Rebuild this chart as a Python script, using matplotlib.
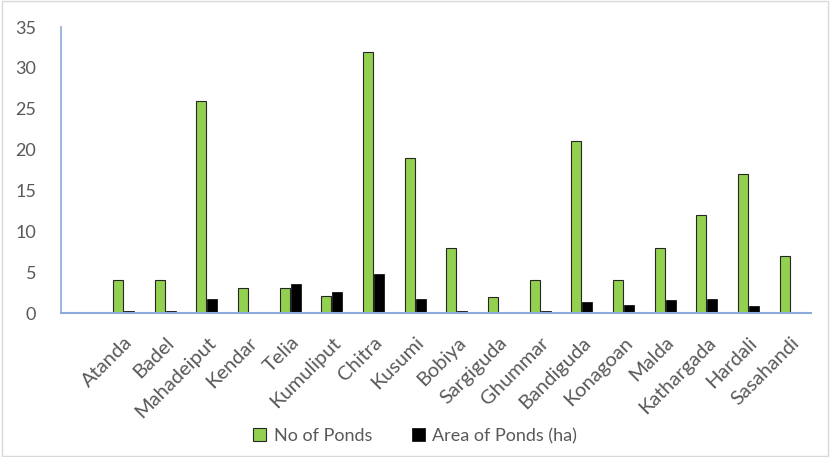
import numpy as np
import matplotlib.pyplot as plt
from matplotlib.patches import Rectangle

plt.rcParams['font.family'] = ['Lato', 'DejaVu Sans']

# data
villages = ['Atanda', 'Badel', 'Mahadeiput', 'Kendar', 'Telia', 'Kumuliput', 'Chitra', 'Kusumi',
            'Bobiya', 'Sargiguda', 'Ghummar', 'Bandiguda', 'Konagoan', 'Malda', 'Kathargada',
            'Hardali', 'Sasahandi']
no_ponds = [4, 4, 26, 3, 3, 2.1, 32, 19, 8, 2, 4, 21, 4, 8, 12, 17, 7]
area_ponds = [0.2, 0.2, 1.7, 0.15, 3.6, 2.6, 4.8, 1.7, 0.2, 0.15, 0.2, 1.3, 0.95, 1.55, 1.7, 0.8, 0.15]

txt_col = '#595959'
axis_col = '#8eaadb'

fig = plt.figure(figsize=(8.3, 4.57), dpi=100)
ax = fig.add_axes([61 / 830, 1 - 313 / 457, 750 / 830, 286 / 457])

x = np.arange(len(villages))
w = 0.24
ax.bar(x - w / 2 - 0.015, no_ponds, w, color='#92d050', edgecolor='#262626', linewidth=0.8,
       label='No of Ponds')
ax.bar(x + w / 2 + 0.015, area_ponds, w, color='black', edgecolor='black', linewidth=0.5,
       label='Area of Ponds (ha)')

ax.set_xlim(-1.5, 16.5)
ax.set_ylim(0, 35)
ax.set_yticks(range(0, 36, 5))
ax.set_xticks(x)
ax.set_xticklabels(villages, rotation=45, ha='right', va='top', rotation_mode='anchor')
ax.tick_params(axis='y', length=0, colors=txt_col, labelsize=13, pad=18)
ax.tick_params(axis='x', length=0, colors=txt_col, labelsize=14.5, pad=15)

for s in ['top', 'right']:
    ax.spines[s].set_visible(False)
ax.spines['left'].set_color(axis_col)
ax.spines['bottom'].set_color(axis_col)
ax.spines['left'].set_linewidth(1.2)
ax.spines['bottom'].set_linewidth(1.5)

fig.legend(loc='center', bbox_to_anchor=(0.5, 1 - 436 / 457), ncol=2, frameon=False,
           fontsize=13, handlelength=0.75, handleheight=0.75, columnspacing=2.2,
           handletextpad=0.4, labelcolor=txt_col)

# light border around the chart
fig.patches.append(Rectangle((0.002, 0.002), 0.996, 0.996, transform=fig.transFigure,
                             fill=False, edgecolor='#d9d9d9', linewidth=1))

fig.savefig('out.png', dpi=100)
